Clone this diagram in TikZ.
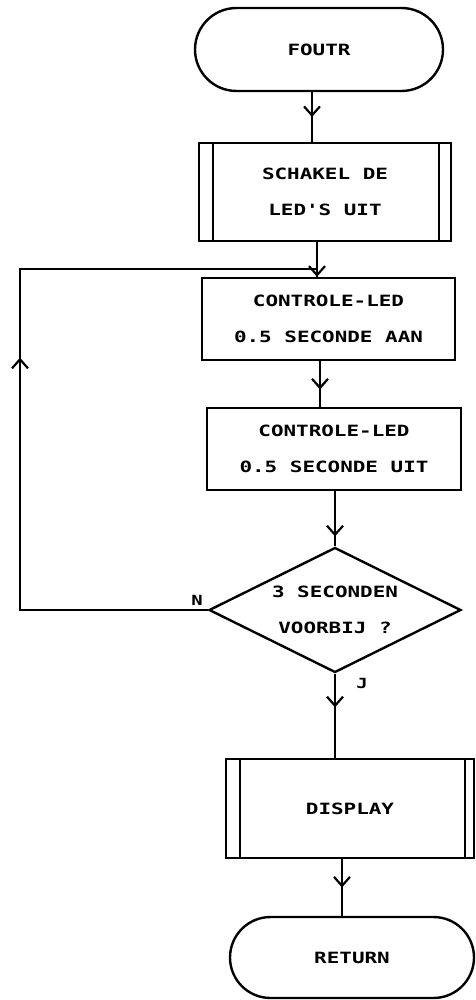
\documentclass[tikz,border=0pt]{standalone}
\usepackage{fontspec}
\newfontfamily\plotfont{DejaVu Sans Mono}[FakeStretch=1.35]
\usetikzlibrary{shapes.misc,shapes.geometric,arrows.meta,decorations.markings}

\tikzset{
  stroke/.style={line width=2.4pt, line join=miter},
  txt/.style={font=\plotfont\bfseries\fontsize{15.5}{36}\selectfont, align=center, inner sep=0pt},
  terminal/.style={stroke, draw, rounded rectangle, txt},
  procbox/.style={stroke, draw, rectangle, txt},
  decision/.style={stroke, draw, diamond, inner sep=0pt},
  midarrow/.style={decoration={markings, mark=at position #1 with
      {\arrow{Straight Barb[length=9pt,width=16pt,line width=2.2pt]}}},
    postaction={decorate}},
  lbl/.style={font=\plotfont\bfseries\fontsize{14}{15}\selectfont, inner sep=0pt}
}

\begin{document}
\begin{tikzpicture}[x=1pt,y=-1pt]
\useasboundingbox (0,0) rectangle (475,1000);

% blocks
\node[terminal, minimum width=248pt, minimum height=83pt] (start) at (319,49.5) {FOUTR};
\node[procbox, minimum width=252pt, minimum height=98pt] (leds) at (325,192) {SCHAKEL DE\\LED'S UIT};
\node[procbox, minimum width=253pt, minimum height=82pt] (aan) at (328.5,319) {CONTROLE-LED\\0.5 SECONDE AAN};
\node[procbox, minimum width=254pt, minimum height=82pt] (uit) at (334,449) {CONTROLE-LED\\0.5 SECONDE UIT};
\node[decision, minimum width=252pt, minimum height=125pt,
      label={[txt]center:3 SECONDEN\\VOORBIJ ?}] (test) at (335,610) {};
\node[procbox, minimum width=248pt, minimum height=99pt] (disp) at (350,808.5) {DISPLAY};
\node[terminal, minimum width=244pt, minimum height=81pt] (ret) at (352,957.5) {RETURN};

% side bars of the subroutine boxes
\draw[stroke] ([xshift=15pt]leds.north west) -- ([xshift=15pt]leds.south west);
\draw[stroke] ([xshift=-13pt]leds.north east) -- ([xshift=-13pt]leds.south east);
\draw[stroke] ([xshift=15pt]disp.north west) -- ([xshift=15pt]disp.south west);
\draw[stroke] ([xshift=-10pt]disp.north east) -- ([xshift=-10pt]disp.south east);

% flow lines
\draw[stroke, midarrow=0.5] ([xshift=-7pt]start.south) -- ([xshift=-7pt]start.south |- leds.north);
\coordinate (join) at ([xshift=-8pt]leds.south |- 0,269);
\draw[stroke, midarrow=1] ([xshift=-8pt]leds.south) -- ([xshift=-8pt]leds.south |- aan.north);
\draw[stroke, midarrow=0.62] ([xshift=-8.5pt]aan.south) -- ([xshift=-8.5pt]aan.south |- uit.north);
\draw[stroke, midarrow=0.82] (uit.south -| test.north) -- (test.north);
\draw[stroke, midarrow=0.4] (test.south) -- (test.south |- disp.north);
\draw[stroke, midarrow=0.5] ([xshift=-8pt]disp.south) -- ([xshift=-8pt]disp.south |- ret.north);

% return loop for the N branch
\coordinate (lx) at (20,0);
\draw[stroke] (test.west) -- (test.west -| lx) -- (lx |- join) -- (join);
\draw[stroke, midarrow=0.74] (test.west -| lx) -- (lx |- join);

% branch labels
\node[lbl] (n) at (197,600) {N};
\node[lbl] (j) at (362,683) {J};
\end{tikzpicture}
\end{document}
